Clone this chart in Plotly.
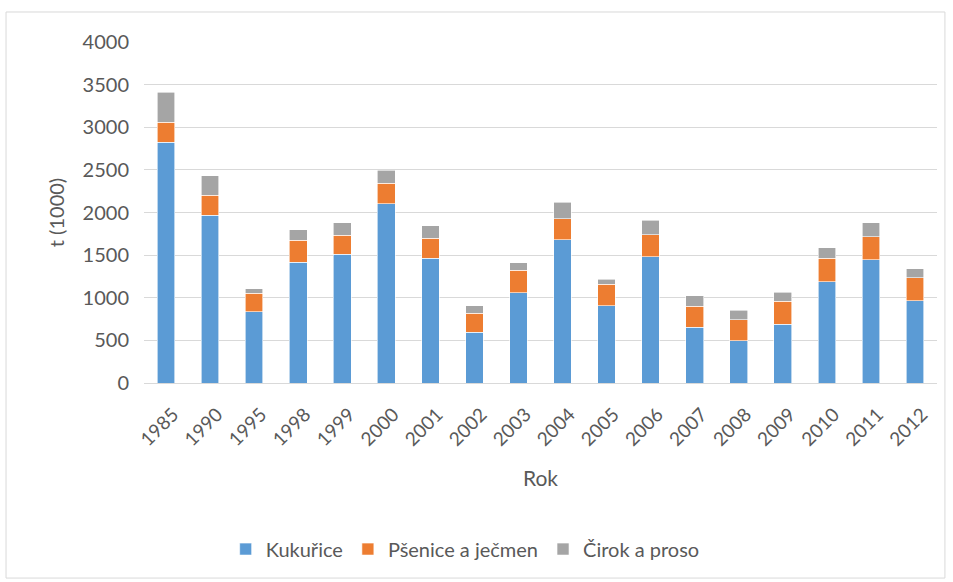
import plotly.graph_objects as go

# Roky a hodnoty (t, v tisících)
roky = ['1985', '1990', '1995', '1998', '1999', '2000', '2001', '2002', '2003',
        '2004', '2005', '2006', '2007', '2008', '2009', '2010', '2011', '2012']
kukurice = [2827, 1967, 833, 1416, 1513, 2104, 1466, 598, 1056,
            1682, 908, 1483, 653, 493, 692, 1185, 1447, 962]
psenice = [231, 235, 219, 258, 223, 239, 231, 220, 266,
           242, 253, 258, 250, 251, 266, 278, 270, 270]
cirok = [355, 231, 55, 121, 145, 152, 149, 90, 86,
         196, 55, 167, 122, 112, 109, 125, 163, 110]
y_ticks = [0, 500, 1000, 1500, 2000, 2500, 3000, 3500, 4000]

FONT = 'Lato'
GREY_TEXT = '#595959'

fig = go.Figure()
serie = [
    ('Kukuřice', kukurice, '#5b9bd5'),
    ('Pšenice a ječmen', psenice, '#ed7d31'),
    ('Čirok a proso', cirok, '#a5a5a5'),
]
for nazev, hodnoty, barva in serie:
    fig.add_trace(go.Bar(
        x=roky, y=hodnoty, name=nazev,
        marker=dict(color=barva, line=dict(color='white', width=0.6)),
    ))

fig.update_layout(
    barmode='stack',
    bargap=0.6,
    width=953, height=582,
    margin=dict(l=144, r=16, t=42, b=199),
    paper_bgcolor='white', plot_bgcolor='white',
    font=dict(family=FONT, color=GREY_TEXT, size=20),
    legend=dict(
        orientation='h', x=0.405, xanchor='center', y=-0.487, yanchor='middle',
        font=dict(size=20, color=GREY_TEXT), traceorder='normal',
        itemwidth=30,
    ),
    shapes=[dict(
        type='rect', xref='paper', yref='paper',
        x0=-0.174, x1=1.010, y0=-0.572, y1=1.088,
        line=dict(color='#d9d9d9', width=1),
    )],
)

fig.update_yaxes(
    range=[0, 4000], tickvals=y_ticks,
    showgrid=True, gridcolor='#d9d9d9', gridwidth=1,
    zeroline=False, showline=False,
    tickfont=dict(size=20, color=GREY_TEXT),
    ticks='', ticklen=0, ticklabelstandoff=14,
    title=dict(text='t (1000)', font=dict(size=20, color=GREY_TEXT), standoff=12),
)
fig.update_xaxes(
    tickangle=-45,
    tickfont=dict(size=19, color=GREY_TEXT),
    ticklabelstandoff=12, ticklabelshift=7,
    showline=True, linecolor='#d9d9d9', linewidth=1,
    title=dict(text='Rok', font=dict(size=21, color=GREY_TEXT), standoff=22),
)

# bez okraje stránky, aby graf seděl přesně v okně
fig.write_html("out.html", config={'displayModeBar': False},
               post_script="document.body.style.margin='0';")
